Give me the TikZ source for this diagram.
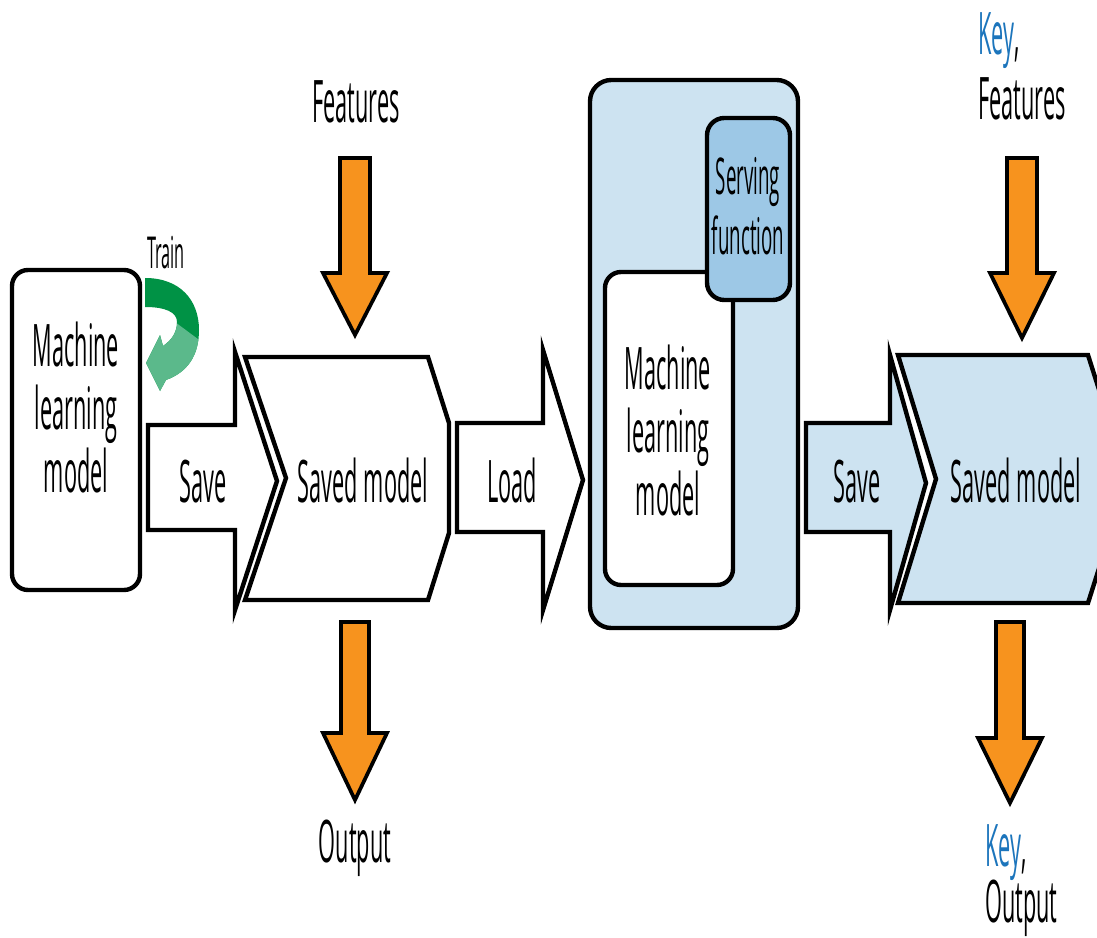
\documentclass[tikz,border=0pt]{standalone}
\usepackage{fontspec}
\setmainfont{Open Sans}[FakeStretch=0.37]
\definecolor{orangeA}{HTML}{F7931E}
\definecolor{lightblueA}{HTML}{CDE3F1}
\definecolor{midblueA}{HTML}{9DC8E6}
\definecolor{keyblueA}{HTML}{1C75BC}
\definecolor{greenDark}{HTML}{009245}
\definecolor{greenLight}{HTML}{5BB98B}
\newcommand{\bigfnt}{\fontsize{44}{47.25}\selectfont}
\newcommand{\midfnt}{\fontsize{38}{45}\selectfont}
\newcommand{\smallfnt}{\fontsize{33}{36}\selectfont}
\begin{document}
\begin{tikzpicture}[x=0.75pt,y=-0.75pt,
  outl/.style={draw=black, line width=3.3pt, line join=miter},
  boxA/.style={outl, rounded corners=12pt, fill=white, inner sep=0pt},
  lbl/.style={font=\bigfnt, inner sep=0pt, anchor=base},
  multi/.style={font=\bigfnt, inner sep=0pt, align=center},
  orarrow/.style={draw=black, line width=2.8pt, fill=orangeA, line join=miter}]
\useasboundingbox (0,0) rectangle (1097,938);
\clip (0,0) rectangle (1097,938);
\fill[white] (0,0) rectangle (1097,938);

% ---------- left machine learning model ----------
\node[boxA, minimum width=96pt, minimum height=240pt] (mlA) at (76,430) {};
\node[multi] (mlAtext) at (76,407) {Machine\\learning\\model};

% ---------- train arrow ----------
\def\trainpath{(145,278) .. controls (180,278) and (199,300) .. (199,330) .. controls (199,355) and (188,372) .. (166,380) -- (160,391) -- (146,363) -- (160,335) -- (163,346) .. controls (172,340) and (177,332) .. (177,322) .. controls (177,312) and (165,307) .. (145,307) -- cycle}
\fill[greenDark] \trainpath;
\begin{scope}
  \clip \trainpath;
  \fill[greenLight] (120,420) -- (120,330) -- (175,322) -- (210,348) -- (210,420) -- cycle;
\end{scope}
\node[lbl, font=\smallfnt] (train) at (166,269) {Train};

% ---------- save arrow 1 ----------
\draw[outl, fill=white] (148,425) -- (235,425) -- (235,352) -- (277,481) -- (235,610) -- (235,530) -- (148,530) -- cycle;
\node[lbl] (save1) at (203,502) {Save};

% ---------- saved model 1 ----------
\draw[outl, fill=white] (245,357) -- (428,357) -- (449,423) -- (449,533) -- (428,600) -- (245,600) -- (286,478) -- cycle;
\node[lbl] (saved1) at (363,502) {Saved model};

% ---------- features / output arrows ----------
\node[lbl] (feat1) at (356,123) {Features};
\draw[orarrow] (340,158) -- (370,158) -- (370,273) -- (387,273) -- (355,335) -- (323,273) -- (340,273) -- cycle;
\draw[orarrow] (341,622) -- (369,622) -- (369,733) -- (387,733) -- (355,800) -- (323,733) -- (341,733) -- cycle;
\node[lbl] (out1) at (355,862) {Output};

% ---------- load arrow ----------
\draw[outl, fill=white] (457,423) -- (543,423) -- (543,350) -- (583,480) -- (543,610) -- (543,532) -- (457,532) -- cycle;
\node[lbl] (load) at (512,502) {Load};

% ---------- serving container ----------
\node[outl, rounded corners=16pt, fill=lightblueA, minimum width=156pt, minimum height=411pt, inner sep=0pt] (big) at (694,354) {};
\node[boxA, minimum width=96pt, minimum height=234.75pt] (mlB) at (669,428.5) {};
\node[multi] (mlBtext) at (668,430) {Machine\\learning\\model};
\node[outl, rounded corners=13pt, fill=midblueA, minimum width=62.25pt, minimum height=136.5pt, inner sep=0pt] (serv) at (748.5,209) {};
\node[multi, font=\midfnt] (servtext) at (748,206) {Serving\\function};

% ---------- save arrow 2 ----------
\draw[outl, fill=lightblueA] (806,423) -- (890,423) -- (890,355) -- (926,483) -- (890,610) -- (890,532) -- (806,532) -- cycle;
\node[lbl] (save2) at (857,502) {Save};

% ---------- saved model 2 ----------
\draw[outl, fill=lightblueA] (898,355) -- (1088,355) -- (1109,421) -- (1109,537) -- (1088,603) -- (898,603) -- (936,479) -- cycle;
\node[lbl] (saved2) at (1016,502) {Saved model};

% ---------- key arrows ----------
\node[lbl, anchor=base west] (key1) at (978,55) {\textcolor{keyblueA}{Key},};
\node[lbl, anchor=base west] (feat2) at (978,120) {Features};
\draw[orarrow] (1007,158) -- (1037,158) -- (1037,273) -- (1054,273) -- (1022,338) -- (990,273) -- (1007,273) -- cycle;
\draw[orarrow] (996,622) -- (1024,622) -- (1024,738) -- (1042,738) -- (1010,803) -- (978,738) -- (996,738) -- cycle;
\node[lbl, anchor=base west] (key2) at (985,866) {\textcolor{keyblueA}{Key},};
\node[lbl, anchor=base west] (out2) at (985,922) {Output};
\end{tikzpicture}
\end{document}
